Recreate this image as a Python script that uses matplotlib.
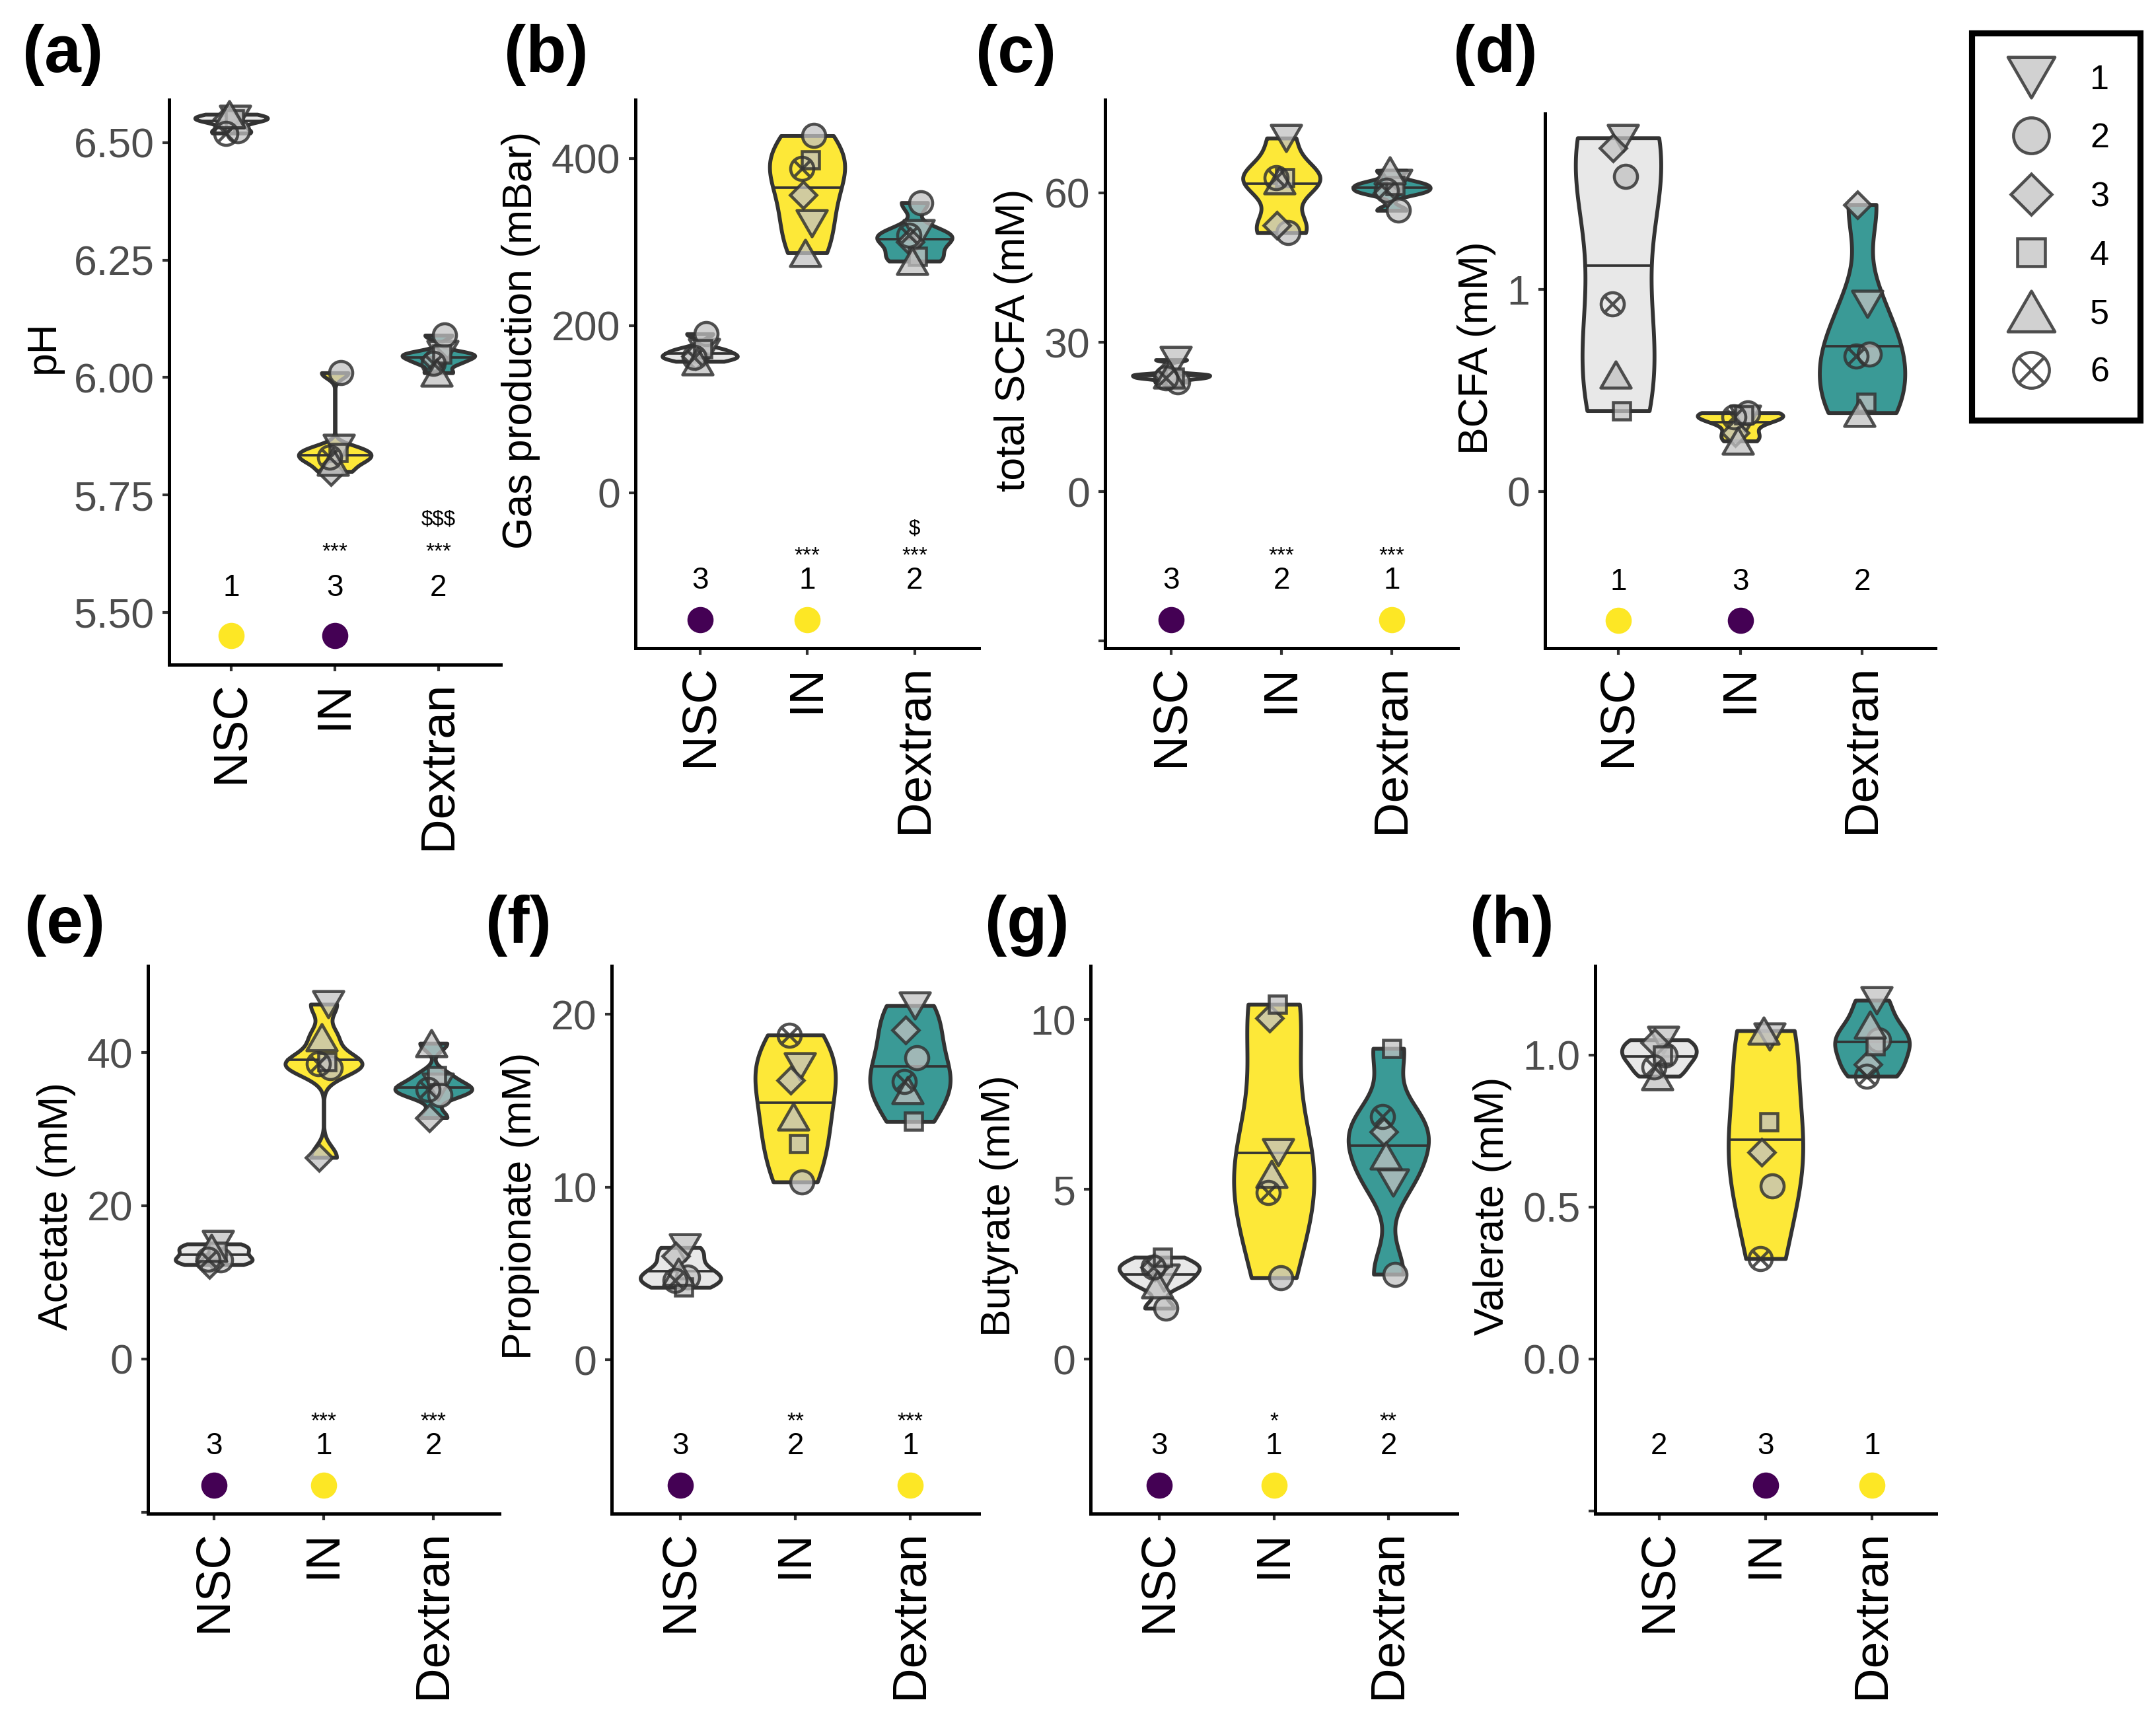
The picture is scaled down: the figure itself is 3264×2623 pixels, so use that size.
import numpy as np
import matplotlib
matplotlib.use("Agg")
from matplotlib import pyplot as plt
from matplotlib.path import Path
from matplotlib.lines import Line2D

plt.rcParams['font.family'] = ['Liberation Sans', 'DejaVu Sans']

groups = ["NSC", "IN", "Dextran"]
donors = ["1", "2", "3", "4", "5", "6"]

# one row per group (NSC, IN, Dextran), one value per donor 1..6
ph = [[6.55, 6.525, 6.55, 6.55, 6.56, 6.52],
      [5.85, 6.01, 5.80, 5.84, 5.82, 5.83],
      [6.05, 6.09, 6.04, 6.05, 6.01, 6.03]]
gas = [[168, 190, 163, 172, 157, 162],
       [322, 427, 356, 398, 287, 388],
       [310, 347, 300, 283, 277, 308]]
scfa = [[26.5, 22.0, 23.5, 23.0, 23.5, 22.8],
        [71.0, 52.0, 53.5, 63.0, 62.5, 63.0],
        [62.0, 56.5, 60.0, 61.5, 64.5, 60.5]]
bcfa = [[1.75, 1.56, 1.70, 0.40, 0.58, 0.93],
        [0.36, 0.39, 0.29, 0.38, 0.25, 0.37],
        [0.93, 0.68, 1.42, 0.44, 0.39, 0.67]]
acetate = [[15.0, 12.9, 12.3, 14.0, 14.5, 13.0],
           [46.3, 38.0, 26.3, 38.8, 42.0, 38.5],
           [35.5, 34.5, 31.5, 37.0, 41.2, 35.2]]
propionate = [[6.5, 4.8, 6.0, 4.2, 5.1, 4.6],
              [17.0, 10.3, 16.2, 12.5, 14.1, 18.8],
              [20.5, 17.5, 19.1, 13.8, 15.6, 16.1]]
butyrate = [[2.4, 1.5, 2.7, 3.0, 2.2, 2.7],
            [6.1, 2.4, 10.05, 10.45, 5.45, 4.9],
            [5.2, 2.5, 6.7, 9.15, 6.0, 7.15]]
valerate = [[1.05, 1.00, 1.04, 1.00, 0.93, 0.96],
            [1.06, 0.57, 0.68, 0.78, 1.08, 0.33],
            [1.18, 1.05, 0.97, 1.03, 1.10, 0.93]]

values = [ph, gas, scfa, bcfa, acetate, propionate, butyrate, valerate]
ylabels = ["pH", "Gas production (mBar)", "total SCFA (mM)", "BCFA (mM)",
           "Acetate (mM)", "Propionate (mM)", "Butyrate (mM)", "Valerate (mM)"]
letters = ["(a)", "(b)", "(c)", "(d)", "(e)", "(f)", "(g)", "(h)"]
yticks = [[5.50, 5.75, 6.00, 6.25, 6.50], [0, 200, 400], [-30, 0, 30, 60], [0, 1],
          [-20, 0, 20, 40], [0, 10, 20], [0, 5, 10], [-0.5, 0.0, 0.5, 1.0]]
tick_fmt = ["{:.2f}", "{:.0f}", "{:.0f}", "{:.0f}", "{:.0f}", "{:.0f}", "{:.0f}", "{:.1f}"]
ylims = [(5.389, 6.591), (-186, 470), (-31.4, 78.7), (-0.775, 1.87),
         (-20.2, 51.3), (-8.9, 22.8), (-4.55, 11.58), (-0.509, 1.293)]
ranks = [[1, 3, 2], [3, 1, 2], [3, 2, 1], [1, 3, 2],
         [3, 1, 2], [3, 2, 1], [3, 1, 2], [2, 3, 1]]
stars = [["", "***", "***"], ["", "***", "***"], ["", "***", "***"], ["", "", ""],
         ["", "***", "***"], ["", "**", "***"], ["", "*", "**"], ["", "", ""]]
dollars = [["", "", "$$$"], ["", "", "$"], ["", "", ""], ["", "", ""],
           ["", "", ""], ["", "", ""], ["", "", ""], ["", "", ""]]

# ---- style ----
W, H = 3264, 2623
fills = ["#E8E8E8", "#FDE838", "#3A9A96"]
rank_colors = {1: "#FDE725", 3: "#440154"}
EDGE = "#333333"
VIOLIN_WIDTH = 0.7
JITTER = [0.04, 0.06, -0.04, 0.03, -0.02, -0.05]

tri_down = Path([(-1, 0.866), (1, 0.866), (0, -0.866), (-1, 0.866)], closed=True)
tri_up = Path([(-1, -0.866), (1, -0.866), (0, 0.866), (-1, -0.866)], closed=True)
d = 0.7071
otimes = Path.make_compound_path(
    Path.unit_circle(),
    Path([(-d, -d), (d, d), (-d, d), (d, -d)],
         [Path.MOVETO, Path.LINETO, Path.MOVETO, Path.LINETO]))
markers = [tri_down, "o", "D", "s", tri_up, otimes]
msizes = [11, 8.4, 6.8, 6.4, 11, 8.4]
PT_FACE = (0.76, 0.76, 0.76, 0.75)
PT_EDGE = (0.2, 0.2, 0.2, 0.85)

# axes boxes in pixels: left, top, right, bottom
boxes = [(256, 151, 758, 1006), (962, 151, 1482, 981), (1673, 151, 2207, 981), (2339, 172, 2930, 981),
         (224, 1462, 756, 2291), (926, 1462, 1482, 2291), (1651, 1462, 2206, 2291), (2415, 1462, 2931, 2291)]
letter_pos = [(34, 83), (763, 83), (1477, 83), (2200, 83),
              (37, 1401), (735, 1401), (1491, 1401), (2225, 1401)]
# y (axes fraction) of rank number, stars, dollar signs and rank dot
ann_y = [(0.136, 0.199, 0.257, 0.052)] + [(0.123, 0.168, 0.218, 0.052)] * 7


def nrd0(x):
    sd = np.std(x, ddof=1)
    q1, q3 = np.percentile(x, [25, 75])
    lo = min(sd, (q3 - q1) / 1.34)
    if lo <= 0:
        lo = sd
    return 0.9 * lo * len(x) ** -0.2


def violin(ax, xpos, vals, color):
    vals = np.asarray(vals, float)
    bw = nrd0(vals)
    ys = np.linspace(vals.min(), vals.max(), 512)
    dens = np.exp(-0.5 * ((ys[:, None] - vals[None, :]) / bw) ** 2).sum(axis=1)
    half = dens / dens.max() * VIOLIN_WIDTH / 2
    ax.fill_betweenx(ys, xpos - half, xpos + half, facecolor=color,
                     edgecolor=EDGE, linewidth=1.4, zorder=2)
    cdf = np.cumsum(dens)
    cdf = cdf / cdf[-1]
    ymed = np.interp(0.5, cdf, ys)
    hmed = np.interp(ymed, ys, half)
    ax.plot([xpos - hmed, xpos + hmed], [ymed, ymed], color=EDGE, lw=0.9, zorder=3)


fig = plt.figure(figsize=(W / 300, H / 300), dpi=300)

for p in range(8):
    l, t, r, b = boxes[p]
    ax = fig.add_axes([l / W, 1 - b / H, (r - l) / W, (b - t) / H])
    data = values[p]
    yn, ys_, yd, ydot = ann_y[p]
    tr = ax.get_xaxis_transform()
    for g in range(3):
        violin(ax, g + 1, data[g], fills[g])
        for k in range(6):
            ax.plot(g + 1 + JITTER[k], data[g][k], ls="none", marker=markers[k],
                    ms=msizes[k], mec=PT_EDGE, mew=1.1,
                    mfc="none" if k == 5 else PT_FACE, zorder=4)
        ax.text(g + 1, yn, str(ranks[p][g]), transform=tr, ha="center", va="center", fontsize=11)
        if stars[p][g]:
            ax.text(g + 1, ys_, stars[p][g], transform=tr, ha="center", va="center", fontsize=8)
        if dollars[p][g]:
            ax.text(g + 1, yd, dollars[p][g], transform=tr, ha="center", va="center", fontsize=7.5)
        if ranks[p][g] in rank_colors:
            ax.plot(g + 1, ydot, "o", transform=tr, ms=8.5, color=rank_colors[ranks[p][g]],
                    clip_on=False, zorder=4)

    ax.set_xlim(0.4, 3.6)
    ax.set_ylim(*ylims[p])
    ax.set_xticks([1, 2, 3])
    ax.set_xticklabels(groups, rotation=90, fontsize=17.5, color="black")
    ax.set_yticks(yticks[p])
    ax.set_yticklabels(["" if v < 0 else tick_fmt[p].format(v) for v in yticks[p]],
                       fontsize=15, color="#4D4D4D")
    ax.tick_params(axis="both", length=2.4, width=1.0, color=EDGE)
    ax.tick_params(axis="y", pad=3)
    ax.tick_params(axis="x", pad=3.5)
    for s in ["top", "right"]:
        ax.spines[s].set_visible(False)
    for s in ["left", "bottom"]:
        ax.spines[s].set_linewidth(1.2)
        ax.spines[s].set_color("black")
    ax.set_ylabel(ylabels[p], fontsize=15, labelpad=4)
    ax.yaxis.label.set_y(0.562)
    ax.patch.set_alpha(0)

    lx, ly = letter_pos[p]
    fig.text(lx / W, 1 - ly / H, letters[p], fontsize=24, fontweight="bold", ha="left", va="center")

handles = [Line2D([], [], ls="none", marker=markers[k], ms=msizes[k], mec=PT_EDGE, mew=1.1,
                  mfc="none" if k == 5 else PT_FACE) for k in range(6)]
leg = fig.legend(handles, donors, loc="upper left", bbox_to_anchor=(2985 / W, 1 - 50 / H),
                 frameon=True, fancybox=False, edgecolor="black", framealpha=1,
                 fontsize=12.5, markerscale=1.55, borderpad=0.9, handlelength=1.66,
                 handletextpad=0.88, labelspacing=0.76, borderaxespad=0)
leg.get_frame().set_linewidth(2.2)

plt.savefig("out.png", dpi=300)
